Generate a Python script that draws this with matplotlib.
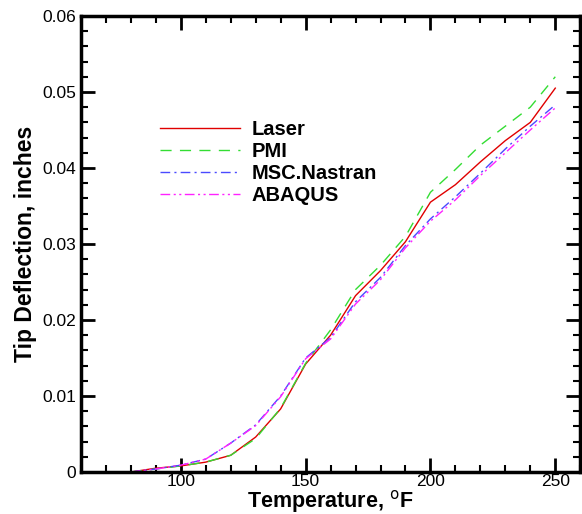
import numpy as np
import matplotlib
matplotlib.use("Agg")
import matplotlib.pyplot as plt
from matplotlib.ticker import MultipleLocator

plt.rcParams['font.family'] = ['Liberation Sans', 'DejaVu Sans']

temps = [80, 90, 100, 110, 120, 130, 140, 150, 160, 170, 180, 190, 200, 210, 220, 230, 240, 250]
laser = [0.0, 0.0005, 0.0008, 0.0013, 0.0022, 0.0046, 0.0083, 0.0142, 0.0180, 0.0232, 0.0265, 0.0303, 0.0355, 0.0378, 0.0408, 0.0436, 0.0460, 0.0505]
pmi = [0.0, 0.0004, 0.0008, 0.0013, 0.0022, 0.0044, 0.0084, 0.0143, 0.0187, 0.0240, 0.0272, 0.0310, 0.0368, 0.0398, 0.0430, 0.0455, 0.0480, 0.0520]
nastran = [0.0, 0.0004, 0.0009, 0.0017, 0.0038, 0.0062, 0.0100, 0.0150, 0.0177, 0.0224, 0.0256, 0.0298, 0.0333, 0.0362, 0.0393, 0.0425, 0.0455, 0.0483]
abaqus = [0.0, 0.0004, 0.0009, 0.0017, 0.0038, 0.0061, 0.0099, 0.0149, 0.0175, 0.0221, 0.0253, 0.0295, 0.0330, 0.0358, 0.0390, 0.0420, 0.0450, 0.0479]
yticks = [0, 0.01, 0.02, 0.03, 0.04, 0.05, 0.06]
ylabels = ['0', '0.01', '0.02', '0.03', '0.04', '0.05', '0.06']

fig = plt.figure(figsize=(5.82, 5.14), dpi=100)
ax = fig.add_axes([0.139, 0.0817, 0.858, 0.8873])

ax.plot(temps, laser, color='#e00000', lw=1.0, label='Laser')
ax.plot(temps, pmi, color='#33dd33', lw=1.0, dashes=(8, 6), label='PMI')
ax.plot(temps, nastran, color='#4a4aff', lw=1.0, dashes=(7, 3, 1.5, 3), label='MSC.Nastran')
ax.plot(temps, abaqus, color='#ff22ff', lw=1.0, dashes=(7, 2.5, 1.5, 2.5, 1.5, 2.5), label='ABAQUS')

ax.set_xlim(60, 260)
ax.set_ylim(0, 0.06)
ax.xaxis.set_major_locator(MultipleLocator(50))
ax.xaxis.set_minor_locator(MultipleLocator(10))
ax.set_yticks(yticks)
ax.set_yticklabels(ylabels)
ax.yaxis.set_minor_locator(MultipleLocator(0.002))

ax.tick_params(which='both', direction='in', top=True, right=True, labelsize=12.5, width=1.5)
ax.tick_params(which='major', length=10, width=2)
ax.tick_params(which='minor', length=5)
ax.tick_params(axis='x', which='both', pad=1.5)
for s in ax.spines.values():
    s.set_linewidth(2.5)

ax.set_xlabel('Temperature, $^{\\mathrm{o}}$F', fontsize=15.5, fontweight='bold', labelpad=-1)
ax.set_ylabel('Tip Deflection, inches', fontsize=16.5, fontweight='bold', labelpad=4)

leg = ax.legend(loc='upper left', bbox_to_anchor=(0.158, 0.772), frameon=False,
                prop={'weight': 'bold', 'size': 14.5}, handlelength=4.0,
                labelspacing=0.15, handletextpad=0.55, borderaxespad=0, borderpad=0)

fig.savefig('out.png', dpi=100)
